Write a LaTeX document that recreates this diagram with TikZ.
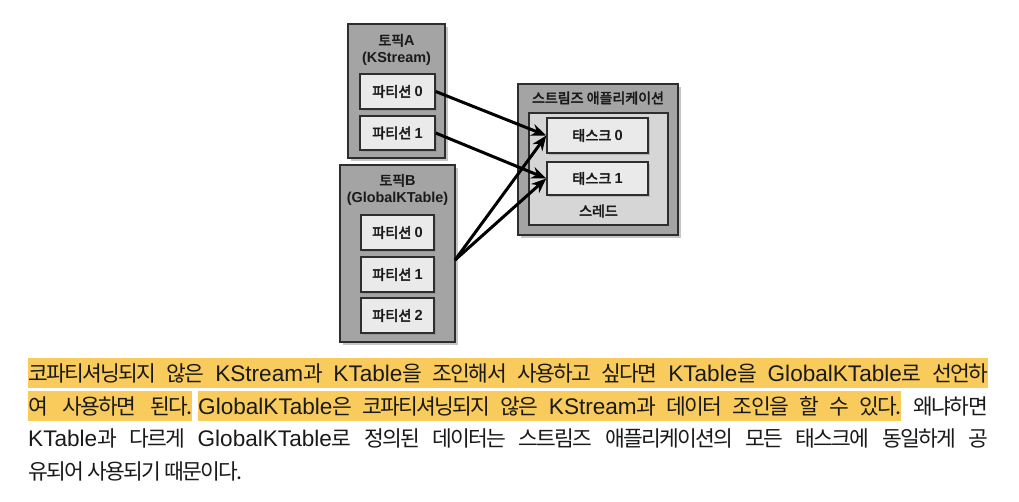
\documentclass[tikz,border=0pt]{standalone}
\usepackage{fontspec}
\newfontfamily\kr{Noto Sans CJK KR}[LetterSpace=-8]
\newfontfamily\krb{Noto Sans CJK KR}[FakeBold=3]
\newfontfamily\latf{Liberation Sans}[Scale=1.05]
\newfontfamily\latbf{Liberation Sans}[Scale=1.03]
\newcommand\latw[1]{{\latf #1}}
\newcommand\latb[1]{{\latbf\bfseries #1}}
\usetikzlibrary{arrows.meta,shadows}
\definecolor{hlc}{HTML}{F9CB5C}
\definecolor{outerc}{HTML}{A4A4A4}
\definecolor{innerc}{HTML}{EAEAEA}
\definecolor{threadc}{HTML}{D6D6D6}
\definecolor{edgec}{HTML}{2E2E2E}
\definecolor{txtc}{HTML}{1A1A1A}
\begin{document}
\begin{tikzpicture}[x=1pt,y=-1pt,
  every node/.style={font=\kr},
  outerbox/.style={draw=edgec,line width=1.8pt,fill=outerc,
    drop shadow={shadow xshift=2.5pt,shadow yshift=-2.5pt,opacity=0.45}},
  threadbox/.style={draw=edgec,line width=1.5pt,fill=threadc},
  partbox/.style={draw=edgec,line width=1.4pt,fill=innerc,
    drop shadow={shadow xshift=1.5pt,shadow yshift=-1.5pt,opacity=0.35},
    font=\krb\fontsize{14.2}{16}\selectfont,text=txtc},
  titletext/.style={font=\krb\fontsize{14}{16.5}\selectfont,align=center,text=txtc,inner sep=0},
  link/.style={line width=3pt,-{Stealth[length=15pt,width=12pt]},draw=black},
  para/.style={font=\kr\fontsize{21.5}{24}\selectfont,text=txtc,inner sep=0,minimum height=30pt},
  hl/.style={para,fill=hlc}
]
\useasboundingbox (0,0) rectangle (1019,501);
\fill[white] (0,0) rectangle (1019,501);

% Topic A
\node[outerbox,minimum width=97pt,minimum height=134pt] (tA) at (396.5,91) {};
\node[titletext] (tAt) at (396.5,49.5) {토픽\latb{A}\\\latb{(KStream)}};
\node[partbox,minimum width=75pt,minimum height=35pt] (pA0) at (397.5,91.5) {파티션 \latb{0}};
\node[partbox,minimum width=75pt,minimum height=34pt] (pA1) at (397.5,133) {파티션 \latb{1}};

% Topic B
\node[outerbox,minimum width=115pt,minimum height=177pt] (tB) at (397.5,253.5) {};
\node[titletext] (tBt) at (397.5,189.5) {토픽\latb{B}\\\latb{(GlobalKTable)}};
\node[partbox,minimum width=73pt,minimum height=35pt] (pB0) at (397.5,232.5) {파티션 \latb{0}};
\node[partbox,minimum width=73pt,minimum height=35pt] (pB1) at (397.5,274.5) {파티션 \latb{1}};
\node[partbox,minimum width=73pt,minimum height=35pt] (pB2) at (397.5,315.5) {파티션 \latb{2}};

% Streams application
\node[outerbox,minimum width=160pt,minimum height=151pt] (app) at (598,159.5) {};
\node[titletext] (appt) at (598,98) {스트림즈 애플리케이션};
\node[threadbox,minimum width=139pt,minimum height=112pt] (thr) at (598.5,169) {};
\node[titletext] (thrt) at (598.5,211) {스레드};
\node[partbox,minimum width=101pt,minimum height=35pt] (k0) at (597.5,135.5) {태스크 \latb{0}};
\node[partbox,minimum width=101pt,minimum height=33pt] (k1) at (597.5,178.5) {태스크 \latb{1}};

% connectors
\coordinate (bs) at (455,260);
\draw[link] (pA0.east) -- (k0.west);
\draw[link] (pA1.east) -- (k1.west);
\draw[link] (bs) -- (k0.west);
\draw[link] (bs) -- (k1.west);

% paragraph
\node[hl,anchor=west] (l1) at (28,373) {\makebox[960pt][s]{코파티셔닝되지 않은 \latw{KStream}과 \latw{KTable}을 조인해서 사용하고 싶다면 \latw{KTable}을 \latw{GlobalKTable}로 선언하}};
\node[hl,anchor=west] (l2a) at (28,406) {\makebox[164pt][s]{여 사용하면 된다.}};
\node[hl,anchor=west] (l2b) at (198,406) {\makebox[703pt][s]{\latw{GlobalKTable}은 코파티셔닝되지 않은 \latw{KStream}과 데이터 조인을 할 수 있다.}};
\node[para,anchor=east] (l2c) at (988,406) {왜냐하면};
\node[para,anchor=west] (l3) at (28,438) {\makebox[960pt][s]{\latw{KTable}과 다르게 \latw{GlobalKTable}로 정의된 데이터는 스트림즈 애플리케이션의 모든 태스크에 동일하게 공}};
\node[para,anchor=west] (l4) at (28,471) {유되어 사용되기 때문이다.};
\end{tikzpicture}
\end{document}
